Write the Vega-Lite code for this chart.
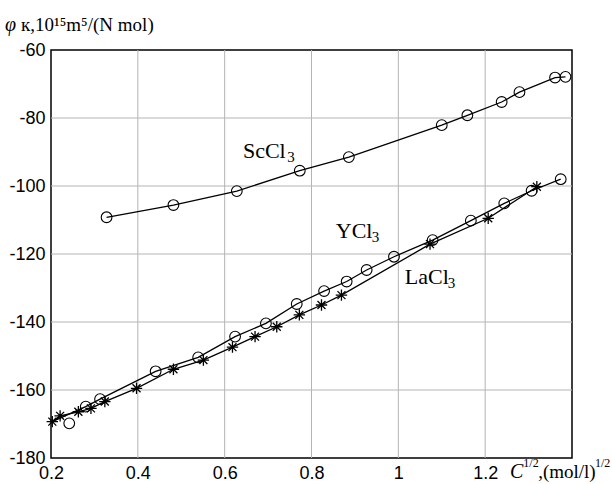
{
  "$schema": "https://vega.github.io/schema/vega-lite/v6.json",
  "width": 521,
  "height": 408,
  "autosize": "none",
  "padding": {"left": 51, "top": 50, "right": 40, "bottom": 26},
  "background": "white",
  "config": {
    "view": {"stroke": "black", "strokeWidth": 1.5},
    "axis": {
      "labelFont": "Liberation Sans",
      "labelFontSize": 18,
      "labelColor": "black",
      "grid": false
    }
  },
  "datasets": {
    "gx": [{"v": 0.4}, {"v": 0.6}, {"v": 0.8}, {"v": 1.0}, {"v": 1.2}],
    "gy": [{"v": -160}, {"v": -140}, {"v": -120}, {"v": -100}, {"v": -80}],
    "pts": [
      {"s": "Sc", "x": 0.328, "y": -109.2, "m": "o", "l": true},
      {"s": "Sc", "x": 0.482, "y": -105.6, "m": "o", "l": true},
      {"s": "Sc", "x": 0.628, "y": -101.5, "m": "o", "l": true},
      {"s": "Sc", "x": 0.773, "y": -95.5, "m": "o", "l": true},
      {"s": "Sc", "x": 0.886, "y": -91.5, "m": "o", "l": true},
      {"s": "Sc", "x": 1.1, "y": -82.1, "m": "o", "l": true},
      {"s": "Sc", "x": 1.159, "y": -79.2, "m": "o", "l": true},
      {"s": "Sc", "x": 1.238, "y": -75.3, "m": "o", "l": true},
      {"s": "Sc", "x": 1.279, "y": -72.4, "m": "o", "l": true},
      {"s": "Sc", "x": 1.361, "y": -68.1, "m": "o", "l": true},
      {"s": "Sc", "x": 1.385, "y": -67.9, "m": "o", "l": true},
      {"s": "Y", "x": 0.203, "y": -169.3, "m": "none", "l": true},
      {"s": "Y", "x": 0.242, "y": -169.8, "m": "o", "l": false},
      {"s": "Y", "x": 0.28, "y": -164.9, "m": "o", "l": true},
      {"s": "Y", "x": 0.313, "y": -162.7, "m": "o", "l": true},
      {"s": "Y", "x": 0.441, "y": -154.5, "m": "o", "l": true},
      {"s": "Y", "x": 0.539, "y": -150.4, "m": "o", "l": true},
      {"s": "Y", "x": 0.624, "y": -144.3, "m": "o", "l": true},
      {"s": "Y", "x": 0.695, "y": -140.4, "m": "o", "l": true},
      {"s": "Y", "x": 0.766, "y": -134.7, "m": "o", "l": true},
      {"s": "Y", "x": 0.829, "y": -130.9, "m": "o", "l": true},
      {"s": "Y", "x": 0.881, "y": -128.1, "m": "o", "l": true},
      {"s": "Y", "x": 0.927, "y": -124.7, "m": "o", "l": true},
      {"s": "Y", "x": 0.99, "y": -120.8, "m": "o", "l": true},
      {"s": "Y", "x": 1.079, "y": -115.9, "m": "o", "l": true},
      {"s": "Y", "x": 1.167, "y": -110.2, "m": "o", "l": true},
      {"s": "Y", "x": 1.244, "y": -105.1, "m": "o", "l": true},
      {"s": "Y", "x": 1.307, "y": -101.4, "m": "o", "l": true},
      {"s": "Y", "x": 1.374, "y": -98.0, "m": "o", "l": true},
      {"s": "La", "x": 0.203, "y": -169.3, "m": "*", "l": true},
      {"s": "La", "x": 0.221, "y": -167.6, "m": "*", "l": true},
      {"s": "La", "x": 0.263, "y": -166.4, "m": "*", "l": true},
      {"s": "La", "x": 0.292, "y": -165.4, "m": "*", "l": true},
      {"s": "La", "x": 0.324, "y": -163.4, "m": "*", "l": true},
      {"s": "La", "x": 0.397, "y": -159.5, "m": "*", "l": true},
      {"s": "La", "x": 0.482, "y": -153.9, "m": "*", "l": true},
      {"s": "La", "x": 0.551, "y": -151.2, "m": "*", "l": true},
      {"s": "La", "x": 0.618, "y": -147.4, "m": "*", "l": true},
      {"s": "La", "x": 0.67, "y": -144.3, "m": "*", "l": true},
      {"s": "La", "x": 0.72, "y": -141.4, "m": "*", "l": true},
      {"s": "La", "x": 0.772, "y": -137.9, "m": "*", "l": true},
      {"s": "La", "x": 0.823, "y": -135.0, "m": "*", "l": true},
      {"s": "La", "x": 0.869, "y": -132.1, "m": "*", "l": true},
      {"s": "La", "x": 1.073, "y": -117.1, "m": "*", "l": true},
      {"s": "La", "x": 1.207, "y": -109.5, "m": "*", "l": true},
      {"s": "La", "x": 1.319, "y": -100.2, "m": "*", "l": true}
    ],
    "big": [
      {"x": 0.642, "y": -91.8, "t": "ScCl"},
      {"x": 0.856, "y": -115.3, "t": "YCl"},
      {"x": 1.015, "y": -128.8, "t": "LaCl"}
    ],
    "sub": [
      {"x": 0.744, "y": -93.0, "t": "3"},
      {"x": 0.939, "y": -116.5, "t": "3"},
      {"x": 1.114, "y": -130.0, "t": "3"}
    ],
    "ttl": [
      {"x": 0.131, "y": -54.4, "t": "к,10¹⁵m⁵/(N mol)"},
      {"x": 1.322, "y": -185.9, "t": ",(mol/l)"}
    ],
    "sup": [
      {"x": 1.288, "y": -182.6, "t": "1/2"},
      {"x": 1.453, "y": -182.6, "t": "1/2"}
    ],
    "ital": [
      {"x": 0.094, "y": -54.4, "t": "φ"},
      {"x": 1.257, "y": -185.9, "t": "C"}
    ]
  },
  "layer": [
    {
      "data": {"name": "gx"},
      "mark": {"type": "rule", "color": "#b4b4b4", "strokeWidth": 1},
      "encoding": {
        "x": {"field": "v", "type": "quantitative", "scale": {"domain": [0.2, 1.4], "nice": false, "zero": false},
              "axis": {"title": null, "values": [0.2, 0.4, 0.6, 0.8, 1.0, 1.2, 1.4], "labelExpr": "datum.value > 1.3 ? '' : format(datum.value, '~g')", "labelPadding": 6, "labelFlush": false, "labelBaseline": "top", "domain": false, "ticks": false, "grid": false}},
        "y": {"datum": -180, "type": "quantitative", "scale": {"domain": [-180, -60], "nice": false, "zero": false},
              "axis": {"title": null, "values": [-180, -160, -140, -120, -100, -80, -60], "labelExpr": "datum.value + ''", "labelPadding": 6, "labelFlush": false, "domain": false, "ticks": false, "grid": false}},
        "y2": {"datum": -60}
      }
    },
    {
      "data": {"name": "gy"},
      "mark": {"type": "rule", "color": "#b4b4b4", "strokeWidth": 1},
      "encoding": {
        "y": {"field": "v", "type": "quantitative"},
        "x": {"datum": 0.2, "type": "quantitative"},
        "x2": {"datum": 1.4}
      }
    },
    {
      "data": {"name": "pts"},
      "transform": [{"filter": "datum.l"}],
      "mark": {"type": "line", "color": "black", "strokeWidth": 1.3},
      "encoding": {
        "x": {"field": "x", "type": "quantitative"},
        "y": {"field": "y", "type": "quantitative"},
        "detail": {"field": "s"},
        "order": {"field": "x"}
      }
    },
    {
      "data": {"name": "pts"},
      "transform": [{"filter": "datum.m == 'o'"}],
      "mark": {"type": "point", "shape": "circle", "filled": false, "color": "black", "size": 115, "strokeWidth": 1.1, "opacity": 1},
      "encoding": {
        "x": {"field": "x", "type": "quantitative"},
        "y": {"field": "y", "type": "quantitative"}
      }
    },
    {
      "data": {"name": "pts"},
      "transform": [{"filter": "datum.m == '*'"}],
      "mark": {"type": "point", "shape": "M-1,0L1,0M0,-1L0,1M-0.7,-0.7L0.7,0.7M-0.7,0.7L0.7,-0.7", "filled": false, "color": "black", "size": 130, "strokeWidth": 1.3, "opacity": 1},
      "encoding": {
        "x": {"field": "x", "type": "quantitative"},
        "y": {"field": "y", "type": "quantitative"}
      }
    },
    {
      "data": {"name": "big"},
      "mark": {"type": "text", "font": "Liberation Serif", "fontSize": 22, "align": "left", "baseline": "alphabetic", "color": "black"},
      "encoding": {
        "x": {"field": "x", "type": "quantitative"},
        "y": {"field": "y", "type": "quantitative"},
        "text": {"field": "t"}
      }
    },
    {
      "data": {"name": "sub"},
      "mark": {"type": "text", "font": "Liberation Serif", "fontSize": 15, "align": "left", "baseline": "alphabetic", "color": "black"},
      "encoding": {
        "x": {"field": "x", "type": "quantitative"},
        "y": {"field": "y", "type": "quantitative"},
        "text": {"field": "t"}
      }
    },
    {
      "data": {"name": "ttl"},
      "mark": {"type": "text", "font": "Liberation Serif", "fontSize": 19, "align": "left", "baseline": "alphabetic", "color": "black"},
      "encoding": {
        "x": {"field": "x", "type": "quantitative"},
        "y": {"field": "y", "type": "quantitative"},
        "text": {"field": "t"}
      }
    },
    {
      "data": {"name": "sup"},
      "mark": {"type": "text", "font": "Liberation Serif", "fontSize": 12, "align": "left", "baseline": "alphabetic", "color": "black"},
      "encoding": {
        "x": {"field": "x", "type": "quantitative"},
        "y": {"field": "y", "type": "quantitative"},
        "text": {"field": "t"}
      }
    },
    {
      "data": {"name": "ital"},
      "mark": {"type": "text", "font": "Liberation Serif", "fontSize": 20, "fontStyle": "italic", "align": "left", "baseline": "alphabetic", "color": "black"},
      "encoding": {
        "x": {"field": "x", "type": "quantitative"},
        "y": {"field": "y", "type": "quantitative"},
        "text": {"field": "t"}
      }
    }
  ]
}
